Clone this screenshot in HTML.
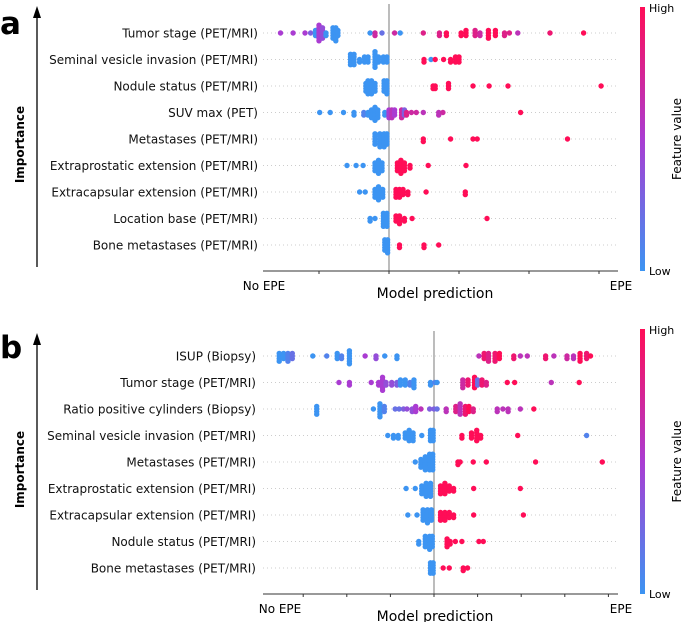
<!DOCTYPE html>
<html><head><meta charset="utf-8"><style>
html,body{margin:0;padding:0;background:#fff;}
svg{display:block;font-family:"DejaVu Sans","Liberation Sans",sans-serif;}
</style></head><body>
<svg id="chart" width="685" height="622" viewBox="0 0 685 622">
<defs>
<linearGradient id="cb" x1="0" y1="1" x2="0" y2="0">
<stop offset="0" stop-color="rgb(60,148,242)"/><stop offset="0.5" stop-color="rgb(170,60,210)"/><stop offset="1" stop-color="rgb(255,13,87)"/>
</linearGradient>
</defs>
<g id="panelA"></g>
<g id="panelB"></g>
</svg>
<script>
// ---- Panel A data ----
const labelsA = ["Tumor stage (PET/MRI)","Seminal vesicle invasion (PET/MRI)","Nodule status (PET/MRI)","SUV max (PET)","Metastases (PET/MRI)","Extraprostatic extension (PET/MRI)","Extracapsular extension (PET/MRI)","Location base (PET/MRI)","Bone metastases (PET/MRI)"];
// each point group: [shap value (tick units), feature value 0..1, count]
const rowsA = [
 [[-1.55,.5,1],[-1.37,.5,1],[-1.2,.5,1],[-1.12,.3,1],[-1.05,0,3],[-1.0,.5,7],[-0.95,.4,5],[-0.9,0,2],[-0.8,0,5],[-0.76,0,6],[-0.73,0,3],[-0.27,0,1],[-0.2,.7,2],[-0.1,.2,1],[0.08,.7,1],[0.16,0,1],[0.49,.8,1],[0.72,.8,2],[0.82,1,2],[1.03,1,2],[1.1,1,3],[1.23,.8,3],[1.3,.7,2],[1.42,1,4],[1.52,1,3],[1.65,.8,2],[1.72,.8,1],[1.84,.6,1],[2.3,.9,1],[2.78,1,1]],
 [[-0.55,0,5],[-0.5,0,5],[-0.42,0,2],[-0.35,0,3],[-0.3,0,3],[-0.2,0,7],[-0.15,0,3],[-0.08,0,3],[-0.03,0,3],[0.5,1,2],[0.6,0,1],[0.66,1,1],[0.78,1,1],[0.88,1,2],[0.95,1,3],[1.0,1,3]],
 [[-0.33,0,4],[-0.3,0,6],[-0.25,0,6],[-0.2,0,4],[-0.07,0,5],[-0.03,0,6],[0.63,1,2],[0.66,1,2],[0.85,1,3],[1.2,1,1],[1.43,1,1],[1.7,1,1],[3.03,1,1]],
 [[-0.99,0,1],[-0.84,0,1],[-0.65,0,1],[-0.5,0,2],[-0.36,.1,2],[-0.3,0,2],[-0.25,0,4],[-0.2,0,6],[-0.16,0,4],[-0.06,0,2],[0.0,.5,4],[0.04,.6,4],[0.08,.5,3],[0.18,.7,4],[0.22,.3,3],[0.25,.8,2],[0.32,.7,1],[0.39,.7,1],[0.49,.6,1],[0.71,.6,2],[0.77,.7,1],[1.88,1,1]],
 [[-0.2,0,5],[-0.13,0,6],[-0.07,0,6],[-0.03,0,5],[0.49,1,2],[0.88,1,1],[1.2,1,1],[1.26,1,1],[2.55,1,1]],
 [[-0.6,0,1],[-0.47,0,1],[-0.37,0,1],[-0.2,0,4],[-0.15,0,6],[-0.1,0,4],[0.12,1,4],[0.17,1,6],[0.22,1,4],[0.3,1,2],[0.56,1,1],[1.1,1,1]],
 [[-0.42,0,1],[-0.34,0,1],[-0.2,0,4],[-0.15,0,6],[-0.09,0,4],[0.1,1,4],[0.15,1,4],[0.2,1,3],[0.27,1,2],[0.53,1,1],[1.09,1,2]],
 [[-0.27,0,2],[-0.2,0,1],[-0.08,0,6],[-0.03,0,6],[0.1,1,3],[0.15,1,4],[0.22,1,2],[0.33,1,1],[1.4,1,1]],
 [[-0.06,0,5],[-0.02,0,6],[0.15,1,2],[0.5,1,2],[0.71,1,1]]
];
// ---- Panel B data ----
const labelsB = ["ISUP (Biopsy)","Tumor stage (PET/MRI)","Ratio positive cylinders (Biopsy)","Seminal vesicle invasion (PET/MRI)","Metastases (PET/MRI)","Extraprostatic extension (PET/MRI)","Extracapsular extension (PET/MRI)","Nodule status (PET/MRI)","Bone metastases (PET/MRI)"];
const rowsB = [
 [[-3.55,0,4],[-3.45,0,3],[-3.35,.1,4],[-3.25,.2,3],[-2.78,0,1],[-2.46,.1,1],[-2.22,0,3],[-2.12,.1,2],[-1.94,0,6],[-1.58,.5,1],[-1.33,.4,2],[-1.13,0,1],[-0.85,0,2],[1.03,.6,1],[1.15,.9,3],[1.25,.8,4],[1.4,.9,4],[1.5,1,3],[1.83,.9,2],[1.98,.6,1],[2.14,.6,1],[2.56,.9,2],[2.75,.6,1],[3.05,.7,2],[3.2,.6,2],[3.35,1,4],[3.5,.9,3],[3.59,1,1]],
 [[-2.18,.5,1],[-1.94,.5,2],[-1.44,.5,1],[-1.27,.5,2],[-1.18,.5,6],[-1.1,.4,2],[-0.97,.4,2],[-0.85,.3,2],[-0.77,0,3],[-0.66,0,3],[-0.55,.1,2],[-0.46,0,4],[-0.08,0,2],[0.02,.1,1],[0.07,0,1],[0.66,.7,4],[0.78,.9,3],[0.93,1,5],[1.0,.2,3],[1.1,.9,3],[1.2,.8,2],[1.68,1,1],[1.85,1,1],[2.69,.6,1],[3.33,1,1]],
 [[-2.69,0,4],[-1.39,0,1],[-1.24,0,6],[-1.14,.1,3],[-0.89,.2,1],[-0.8,.2,1],[-0.7,.3,1],[-0.62,.4,1],[-0.5,.4,2],[-0.42,.5,3],[-0.3,.6,1],[-0.1,.3,1],[0.0,.3,1],[0.07,.2,1],[0.28,.6,2],[0.5,.8,3],[0.6,.6,5],[0.72,.9,4],[0.8,1,3],[0.9,.8,2],[1.45,.6,2],[1.58,.6,1],[1.7,.6,2],[1.98,.6,1],[2.29,1,1]],
 [[-1.06,0,1],[-0.93,0,2],[-0.82,0,2],[-0.66,0,3],[-0.57,0,5],[-0.48,0,4],[-0.28,0,1],[-0.08,0,5],[-0.02,0,5],[0.64,1,2],[0.86,1,3],[0.98,1,5],[1.07,1,2],[1.92,1,1],[3.5,.1,1]],
 [[-0.43,0,1],[-0.3,0,4],[-0.2,0,6],[-0.1,0,7],[-0.03,0,7],[0.55,1,2],[0.6,1,1],[0.9,1,1],[1.2,1,1],[2.33,1,1],[3.86,1,1]],
 [[-0.64,0,1],[-0.43,0,1],[-0.28,0,4],[-0.18,0,6],[-0.08,0,6],[0.15,1,4],[0.25,1,5],[0.35,1,3],[0.45,1,2],[0.91,1,1],[1.98,1,1]],
 [[-0.6,0,1],[-0.39,0,1],[-0.25,0,5],[-0.15,0,6],[-0.06,0,5],[0.15,1,4],[0.25,1,4],[0.35,1,3],[0.45,1,2],[0.91,1,1],[2.05,1,1]],
 [[-0.35,0,2],[-0.2,0,5],[-0.1,0,6],[-0.04,0,5],[0.3,1,4],[0.37,1,2],[0.49,1,1],[0.64,1,1],[1.03,1,1],[1.13,1,1]],
 [[-0.08,0,5],[-0.02,0,5],[0.21,1,1],[0.35,1,1],[0.67,1,2],[0.77,1,1]]
];
const ticksA = [-1,0,1,2,3];
const ticksB = [-3,-2,-1,0,1,2,3,4];

const NS="http://www.w3.org/2000/svg";
function mk(parent,tag,attrs,text){const e=document.createElementNS(NS,tag);for(const k in attrs)e.setAttribute(k,attrs[k]);if(text!==undefined)e.textContent=text;parent.appendChild(e);return e;}
function col(f){
  const a=[60,148,242],m=[170,60,210],b=[255,13,87];
  let c;if(f<.5){const t=f/.5;c=a.map((v,i)=>Math.round(v+(m[i]-v)*t));}else{const t=(f-.5)/.5;c=m.map((v,i)=>Math.round(v+(b[i]-v)*t));}
  return `rgb(${c[0]},${c[1]},${c[2]})`;
}
function panel(g,cfg){
  const xs=v=>cfg.zero+v*cfg.unit;
  const ys=i=>cfg.row0+i*cfg.rowStep;
  const L=mk(g,'text',{x:0,y:cfg.letterY,'font-size':31,'font-weight':'bold'},cfg.letter);
  
  const ar=mk(g,'line',{x1:37,y1:cfg.axisY-4,x2:37,y2:cfg.top+8,stroke:'#000','stroke-width':1.3});
  
  const ah=mk(g,'polygon',{points:`33,${cfg.top+12} 37,${cfg.top} 41,${cfg.top+12}`,fill:'#000'});
  
  const cy=(cfg.top+cfg.axisY)/2+6;
  const im=mk(g,'text',{x:24,y:cy,'font-size':12,'font-weight':'bold','text-anchor':'middle',transform:`rotate(-90 24 ${cy})`},'Importance');
  
  cfg.labels.forEach((lab,i)=>{
    const gl=mk(g,'line',{x1:263,x2:617,y1:ys(i),y2:ys(i),stroke:'#ccc','stroke-width':1,'stroke-dasharray':'1,3'});
    
    const t=mk(g,'text',{x:cfg.labelX,y:ys(i)+4.5,'font-size':12,'text-anchor':'end',fill:'#111'},lab);
    
  });
  const z=mk(g,'line',{x1:xs(0),x2:xs(0),y1:cfg.top-2,y2:cfg.axisY,stroke:'#999','stroke-width':1.3});
  
  cfg.rows.forEach((row,i)=>{
    row.forEach(p=>{
      for(let k=0;k<p[2];k++){
        const off=(k===0?0:(k%2?1:-1)*Math.ceil(k/2))*2.6;
        const c=mk(g,'circle',{cx:xs(p[0]),cy:ys(i)+off,r:2.7,fill:col(p[1])});
        
        
      }
    });
  });
  const ax=mk(g,'line',{x1:263,x2:618,y1:cfg.axisY,y2:cfg.axisY,stroke:'#333','stroke-width':1});
  
  cfg.ticks.forEach(t=>{
    const tk=mk(g,'line',{x1:xs(t),x2:xs(t),y1:cfg.axisY,y2:cfg.axisY+3,stroke:'#333'});
    
  });
  const n1=mk(g,'text',{x:cfg.noX,y:cfg.axisY+19,'font-size':12,'text-anchor':'middle'},'No EPE');
  
  const n2=mk(g,'text',{x:621,y:cfg.axisY+19,'font-size':12,'text-anchor':'middle'},'EPE');
  
  const mp=mk(g,'text',{x:435,y:cfg.axisY+27,'font-size':14,'text-anchor':'middle'},'Model prediction');
  
  const cb=mk(g,'rect',{x:640,y:cfg.cbTop,width:5,height:cfg.axisY-cfg.cbTop,fill:'url(#cb)'});
  
  const hi=mk(g,'text',{x:649,y:cfg.cbTop+5,'font-size':11},'High');
  
  const lo=mk(g,'text',{x:649,y:cfg.axisY+4,'font-size':11},'Low');
  
  const fy=(cfg.cbTop+cfg.axisY)/2;
  const fv=mk(g,'text',{x:681,y:fy,'font-size':12,'text-anchor':'middle',transform:`rotate(-90 681 ${fy})`},'Feature value');
  
}
panel(document.getElementById('panelA'),{letter:'a',letterY:34,labels:labelsA,rows:rowsA,ticks:ticksA,zero:389,unit:70,row0:33,rowStep:26.5,axisY:271,top:6,cbTop:7,labelX:258,noX:264});
panel(document.getElementById('panelB'),{letter:'b',letterY:358,labels:labelsB,rows:rowsB,ticks:ticksB,zero:434,unit:43.6,row0:356,rowStep:26.5,axisY:594,top:333,cbTop:329,labelX:256,noX:280});
</script>
</body></html>
